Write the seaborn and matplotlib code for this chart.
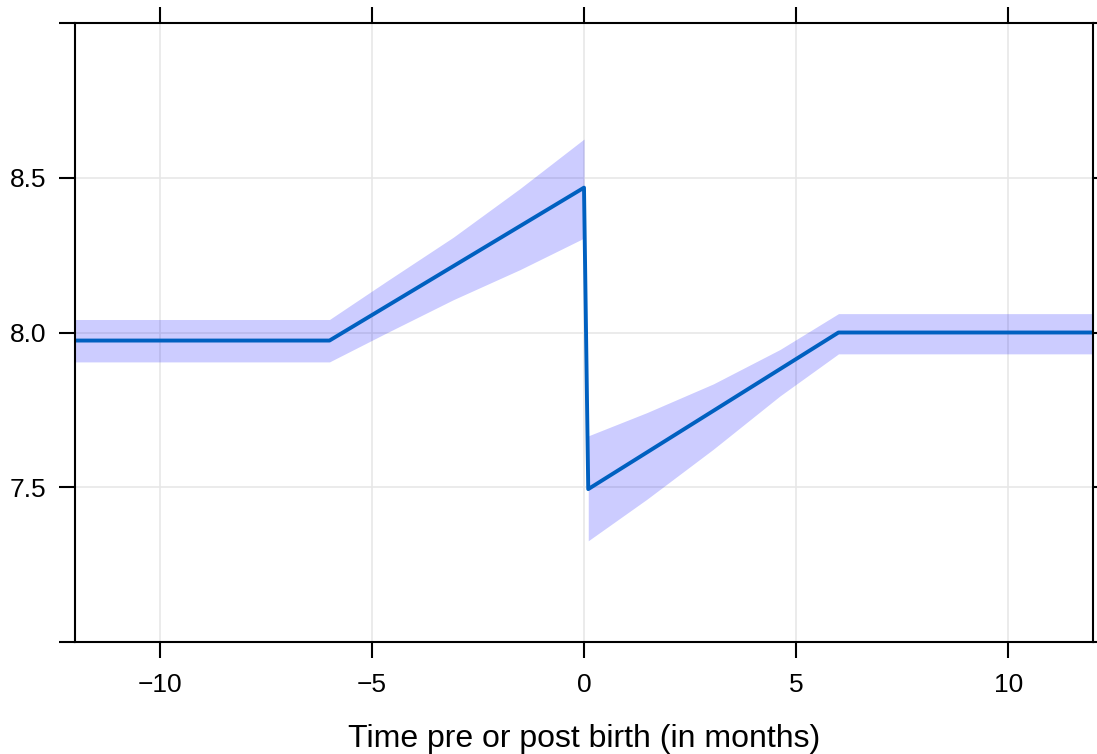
import matplotlib.pyplot as plt
import numpy as np
import pandas as pd
import seaborn as sns

# fitted curve (piecewise, drop at birth)
time_months = [-12, -6, 0, 0.1, 6, 12]
fitted = [7.974, 7.974, 8.468, 7.494, 8.0, 8.0]

# confidence band, pre-birth segment
band_pre_x = [-12, -6, -4.65, -3.08, -1.51, 0]
band_pre_lo = [7.905, 7.905, 7.999, 8.106, 8.203, 8.305]
band_pre_hi = [8.042, 8.042, 8.166, 8.308, 8.465, 8.625]

# confidence band, post-birth segment
band_post_x = [0.1, 1.48, 3.05, 4.62, 6, 12]
band_post_lo = [7.327, 7.461, 7.623, 7.795, 7.931, 7.931]
band_post_hi = [7.666, 7.741, 7.834, 7.945, 8.061, 8.061]

x_ticks = [-10, -5, 0, 5, 10]
y_ticks = [7.0, 7.5, 8.0, 8.5, 9.0]
y_tick_labels = ['', '7.5', '8.0', '8.5', '']

sns.set_theme(style='white')
plt.rcParams['font.family'] = ['Liberation Sans', 'DejaVu Sans']
plt.rcParams['text.color'] = 'black'
plt.rcParams['axes.labelcolor'] = 'black'
plt.rcParams['xtick.color'] = 'black'
plt.rcParams['ytick.color'] = 'black'

fig = plt.figure(figsize=(10.97, 7.54), dpi=100)
ax = fig.add_axes([75 / 1097, 1 - 642 / 754, (1093 - 75) / 1097, (642 - 23) / 754])

df = pd.DataFrame({'time': time_months, 'value': fitted})

ax.fill_between(band_pre_x, band_pre_lo, band_pre_hi, color='blue', alpha=0.2, lw=0)
ax.fill_between(band_post_x, band_post_lo, band_post_hi, color='blue', alpha=0.2, lw=0)
sns.lineplot(data=df, x='time', y='value', ax=ax, color='#0060C0', lw=2.8,
             sort=False, estimator=None)

ax.set_xlim(-12, 12)
ax.set_ylim(7.0, 9.0)
ax.set_xticks(x_ticks)
ax.set_yticks(y_ticks)
ax.set_yticklabels(y_tick_labels)
ax.grid(True, color='#E6E6E6', lw=1.1)
ax.set_axisbelow(True)

for sp in ax.spines.values():
    sp.set_color('black')
    sp.set_linewidth(1.5)

ax.tick_params(axis='both', direction='out', length=11.5, width=1.5, color='black',
               labelcolor='black', labelsize=19, pad=9, top=True, right=True,
               bottom=True, left=True, labeltop=False, labelright=False)
ax.tick_params(axis='x', pad=11)

ax.set_xlabel('Time pre or post birth (in months)', fontsize=23, labelpad=19, color='black')
ax.set_ylabel('')

fig.savefig('out.png', dpi=100)
